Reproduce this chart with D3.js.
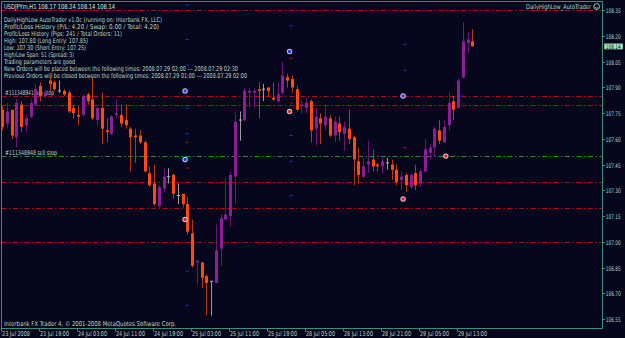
<!DOCTYPE html>
<html><head><meta charset="utf-8">
<script src="https://cdn.jsdelivr.net/npm/d3@7"></script>
<style>html,body{margin:0;padding:0;background:#06061c;overflow:hidden}svg{display:block}</style>
</head><body><svg id="c" width="625" height="338"></svg>
<script>
// ---- data (USDJPYm H1) ----
const opens  = [107.77,107.69,107.77,107.61,107.80,107.68,107.73,107.80,107.91,107.85,
                107.94,107.93,107.88,107.88,107.87,107.78,107.74,107.74,107.86,107.83,
                107.71,107.78,107.65,107.63,107.74,107.74,107.71,107.66,107.62,107.62,
                107.58,107.40,107.34,107.21,107.31,107.38,107.39,107.27,107.28,107.22,
                107.05,106.88,106.88,106.80,106.77,106.76,106.96,107.13,107.15,107.38,
                107.71,107.71,107.87,107.87,107.89,107.89,107.90,107.84,107.82,107.87,
                107.96,107.95,107.89,107.79,107.78,107.82,107.66,107.72,107.68,107.72,
                107.62,107.69,107.63,107.66,107.61,107.47,107.38,107.45,107.48,107.45,
                107.44,107.46,107.45,107.42,107.36,107.39,107.32,107.40,107.34,107.41,
                107.52,107.55,107.65,107.58,107.68,107.82,107.78,107.96,108.16,108.17];
const highs  = [107.79,107.81,107.77,107.83,107.82,107.74,107.83,107.92,107.93,107.89,
                107.96,107.94,107.94,107.89,107.88,107.80,107.79,107.86,107.87,107.96,
                107.79,107.87,107.72,107.74,107.83,107.80,107.80,107.67,107.66,107.65,
                107.59,107.44,107.45,107.33,107.43,107.43,107.40,107.34,107.28,107.26,
                107.13,106.89,106.88,106.81,106.77,107.10,107.16,107.37,107.41,107.76,
                107.76,107.90,107.90,107.89,107.93,107.92,107.90,107.93,107.93,108.05,
                107.98,107.97,107.91,107.83,107.84,107.83,107.78,107.75,107.80,107.74,
                107.73,107.73,107.70,107.77,107.62,107.55,107.49,107.59,107.54,107.46,
                107.49,107.49,107.48,107.45,107.41,107.40,107.40,107.45,107.42,107.60,
                107.57,107.67,107.71,107.71,107.87,107.85,107.95,108.28,108.22,108.24];
const lows   = [107.65,107.66,107.60,107.55,107.64,107.64,107.72,107.79,107.82,107.84,
                107.88,107.88,107.87,107.85,107.75,107.72,107.68,107.73,107.80,107.71,
                107.68,107.57,107.58,107.62,107.72,107.67,107.66,107.41,107.46,107.57,
                107.41,107.32,107.21,107.19,107.29,107.34,107.25,107.22,107.20,107.04,
                106.85,106.75,106.73,106.57,106.57,106.76,106.86,107.13,107.09,107.22,
                107.59,107.70,107.78,107.78,107.72,107.82,107.85,107.82,107.81,107.86,
                107.90,107.87,107.76,107.75,107.75,107.58,107.56,107.57,107.65,107.61,
                107.58,107.59,107.53,107.57,107.33,107.34,107.37,107.40,107.41,107.41,
                107.40,107.42,107.36,107.33,107.30,107.29,107.31,107.30,107.32,107.41,
                107.48,107.50,107.57,107.58,107.65,107.71,107.78,107.95,108.10,108.14];
const closes = [107.67,107.76,107.62,107.81,107.67,107.72,107.81,107.89,107.85,107.87,
                107.92,107.89,107.88,107.86,107.76,107.75,107.73,107.85,107.82,107.72,
                107.78,107.66,107.64,107.73,107.75,107.69,107.68,107.61,107.61,107.58,
                107.41,107.33,107.22,107.32,107.38,107.38,107.28,107.27,107.22,107.06,
                106.86,106.89,106.79,106.76,106.77,106.95,107.14,107.16,107.39,107.70,
                107.71,107.88,107.88,107.88,107.88,107.89,107.88,107.83,107.86,107.97,
                107.94,107.90,107.77,107.80,107.81,107.65,107.73,107.69,107.73,107.62,
                107.70,107.64,107.67,107.60,107.48,107.39,107.44,107.47,107.44,107.44,
                107.47,107.46,107.42,107.35,107.38,107.33,107.39,107.33,107.41,107.54,
                107.55,107.66,107.59,107.67,107.81,107.77,107.94,108.17,108.18,108.14];

const priceTicks = [108.35,108.20,108.05,107.90,107.75,107.60,107.45,107.30,107.15,107.00,106.85,106.70,106.55];
const timeLabels = ["23 Jul 2008","23 Jul 19:00","24 Jul 03:00","24 Jul 11:00","24 Jul 19:00","25 Jul 03:00",
                    "25 Jul 11:00","25 Jul 19:00","28 Jul 05:00","28 Jul 13:00","28 Jul 21:00","29 Jul 05:00","29 Jul 13:00"];
const timeLabelBars = [1,9,17,25,33,41,49,57,65,73,81,89,97];

// horizontal order/level lines
const redLevels = [108.35,107.85,107.80,107.35,107.20,107.00];
const greenLevels = [107.50];
const levelLabels = ["#111348941 buy stop","#111348948 sell stop"];
const levelLabelPrices = [107.85,107.50];

// order arrows (bar index, price)
const buyArrowBars = [39.5,39.5,61.5,85.4];
const buyArrowPrices = [107.88,107.48,108.11,107.85];
const sellArrowBars = [39.5,61.5,85.4,94.4];
const sellArrowPrices = [107.13,107.76,107.25,107.50];
// small stop / target dashes
const blueDashBars = [39.9,39.9,39.9,39.9,39.9,39.9,39.9,61.8,61.8,61.8,61.8,85.7,85.7,97.6];
const blueDashPrices = [108.38,108.18,108.03,107.78,107.63,106.83,106.63,108.26,107.62,107.47,107.27,108.15,108.00,107.85];
const redDashBars = [39.9,39.9,61.8,61.8,85.7];
const redDashPrices = [107.58,107.43,108.07,107.81,107.55];

const symbolHeader = "USDJPYm,H1  108.17 108.24 108.14 108.14";
const infoLines = [
 "DailyHighLow AutoTrader v1.0c (running on: Interbank FX, LLC)",
 "Profit/Loss History (P/L: 4.20 / Swap: 0.00 / Total: 4.20)",
 "Profit/Loss History (Pips: 241 / Total Orders: 11)",
 "High: 107.80 (Long Entry: 107.85)",
 "Low: 107.30 (Short Entry: 107.25)",
 "High/Low Span: 51 (Spread: 3)",
 "Trading parameters are good",
 "New Orders will be placed between the following times: 2008.07.29 02:00 --- 2008.07.29 02:30",
 "Previous Orders will be closed between the following times: 2008.07.29 01:00 --- 2008.07.29 02:00"];
const infoWidths = [158,155,118,84,82,70,71,234,243];
const expertName = "DailyHighLow_AutoTrader";
const copyright = "Interbank FX Trader 4, \u00A9 2001-2008 MetaQuotes Software Corp.";
const currentPrice = 108.14;

// ---- drawing ----
const W=625,H=338;
const L=1.5,R=602.5,T=1.5,B=328.5;
const svg=d3.select("#c");
const y=d3.scaleLinear().domain([106.55,108.35]).range([319,10.3]);
const x=d3.scaleLinear().domain([1,100]).range([2.2,472.45]);
const FONT="'DejaVu Sans Condensed','DejaVu Sans',sans-serif";
const TXT="#b6dcc4";

svg.append("rect").attr("width",W).attr("height",H).attr("fill","#06061c");
svg.append("defs").append("clipPath").attr("id","plot").append("rect")
  .attr("x",L+0.5).attr("y",T+0.5).attr("width",R-L-1).attr("height",B-T-1);
const plot=svg.append("g").attr("clip-path","url(#plot)");

// level labels (behind candles)
plot.selectAll("text.lvl").data(levelLabels).join("text")
  .attr("x",5).attr("y",(d,i)=>y(levelLabelPrices[i])-1.5)
  .attr("fill",TXT).attr("font-family",FONT).attr("font-size",6.6)
  .attr("textLength",(d,i)=>i===0?49:52).attr("lengthAdjust","spacingAndGlyphs").text(d=>d);

// lines
const dash="5,2.5,1.5,2.5";
plot.selectAll("line.red").data(redLevels).join("line")
  .attr("x1",L).attr("x2",R).attr("y1",d=>Math.round(y(d))+0.5).attr("y2",d=>Math.round(y(d))+0.5)
  .attr("stroke","#c00808").attr("stroke-width",1).attr("stroke-dasharray",dash);
plot.selectAll("line.green").data(greenLevels).join("line")
  .attr("x1",L).attr("x2",R).attr("y1",d=>Math.round(y(d))+0.5).attr("y2",d=>Math.round(y(d))+0.5)
  .attr("stroke","#1a9a1a").attr("stroke-width",1).attr("stroke-dasharray",dash);

// candles
const bars=d3.range(100).map(i=>({i:i+1,o:opens[i],h:highs[i],l:lows[i],c:closes[i]}));
const g=plot.append("g");
bars.forEach(b=>{
  const cx=Math.round(x(b.i));
  const up=b.c>b.o, down=b.c<b.o;
  const bodyCol= up?"#8e1e98":(down?"#ff4a0c":"#b4b4b4");
  const wickCol= up?"#70147a":(down?"#b83a0c":"#9c9c9c");
  g.append("line").attr("x1",cx+0.5).attr("x2",cx+0.5)
    .attr("y1",y(b.h)).attr("y2",y(b.l)).attr("stroke",wickCol).attr("stroke-width",1);
  const top=y(Math.max(b.o,b.c)), bot=y(Math.min(b.o,b.c));
  if(up||down){
    g.append("rect").attr("x",cx-1).attr("y",top).attr("width",3).attr("height",Math.max(1.2,bot-top))
      .attr("fill",bodyCol);
  } else {
    g.append("line").attr("x1",cx-1).attr("x2",cx+2).attr("y1",top).attr("y2",top)
      .attr("stroke",bodyCol).attr("stroke-width",1);
  }
});

// dashes
plot.selectAll("line.bd").data(blueDashBars).join("line")
  .attr("x1",d=>x(d)-1.5).attr("x2",d=>x(d)+2).attr("y1",(d,i)=>y(blueDashPrices[i])).attr("y2",(d,i)=>y(blueDashPrices[i]))
  .attr("stroke","#1a2cc8").attr("stroke-width",1);
plot.selectAll("line.rd").data(redDashBars).join("line")
  .attr("x1",d=>x(d)-1.5).attr("x2",d=>x(d)+2).attr("y1",(d,i)=>y(redDashPrices[i])).attr("y2",(d,i)=>y(redDashPrices[i]))
  .attr("stroke","#b00a0a").attr("stroke-width",1);

// arrows
function arrows(bs,ps,col){
  const a=plot.append("g");
  bs.forEach((b,i)=>{
    a.append("circle").attr("cx",x(b)).attr("cy",y(ps[i])).attr("r",2.7).attr("fill","#c8c8d8");
    a.append("circle").attr("cx",x(b)).attr("cy",y(ps[i])).attr("r",1.7).attr("fill",col);
  });
}
arrows(buyArrowBars,buyArrowPrices,"#2030ff");
arrows(sellArrowBars,sellArrowPrices,"#ff1a1a");

// texts
svg.append("text").attr("x",4).attr("y",8.5).attr("fill","#d8e8e0").attr("font-family",FONT)
  .attr("font-size",6.8).attr("textLength",111).attr("lengthAdjust","spacingAndGlyphs").text(symbolHeader);
svg.selectAll("text.info").data(infoLines).join("text")
  .attr("x",4).attr("y",(d,i)=>21.6+i*7.05).attr("fill",TXT).attr("font-family",FONT).attr("font-size",6.6)
  .attr("textLength",(d,i)=>infoWidths[i]).attr("lengthAdjust","spacingAndGlyphs").text(d=>d);
svg.append("text").attr("x",526).attr("y",8.8).attr("fill",TXT).attr("font-family",FONT)
  .attr("font-size",6.6).attr("textLength",65).attr("lengthAdjust","spacingAndGlyphs").text(expertName);
svg.append("circle").attr("cx",596.7).attr("cy",6.5).attr("r",2.9).attr("fill","none").attr("stroke",TXT).attr("stroke-width",0.9);
svg.append("path").attr("d","M595.2,7.3 Q596.7,9 598.2,7.3").attr("fill","none").attr("stroke",TXT).attr("stroke-width",0.7);
svg.append("text").attr("x",4).attr("y",325.6).attr("fill",TXT).attr("font-family",FONT)
  .attr("font-size",6.6).attr("textLength",172).attr("lengthAdjust","spacingAndGlyphs").text(copyright);

// frame
svg.append("rect").attr("x",L).attr("y",T).attr("width",R-L).attr("height",B-T)
  .attr("fill","none").attr("stroke","#3a9274").attr("stroke-width",1);

// price axis
const pa=svg.append("g");
priceTicks.forEach(p=>{
  const yy=Math.round(y(p))+0.5;
  pa.append("line").attr("x1",R).attr("x2",R+2.5).attr("y1",yy).attr("y2",yy).attr("stroke","#3a9274");
  pa.append("text").attr("x",605.8).attr("y",yy+2.2).attr("fill",TXT).attr("font-family",FONT)
    .attr("font-size",6.3).attr("textLength",15).attr("lengthAdjust","spacingAndGlyphs").text(p.toFixed(2));
});
const cy=y(currentPrice);
pa.append("rect").attr("x",604.3).attr("y",cy-2.8).attr("width",18.5).attr("height",5.8).attr("fill","#a8ecc4");
pa.append("text").attr("x",605.8).attr("y",cy+2.2).attr("fill","#06061c").attr("font-family",FONT)
  .attr("font-size",6.3).attr("textLength",15).attr("lengthAdjust","spacingAndGlyphs").text(currentPrice.toFixed(2));

// time axis
const ta=svg.append("g");
timeLabels.forEach((t,i)=>{
  const xx=Math.round(x(timeLabelBars[i]))-0.5;
  ta.append("line").attr("x1",xx).attr("x2",xx).attr("y1",B).attr("y2",B+3).attr("stroke","#3a9274");
  ta.append("text").attr("x",xx+0.5).attr("y",335.6).attr("fill",TXT).attr("font-family",FONT)
    .attr("font-size",6.6).attr("textLength",t.length===11?28:29).attr("lengthAdjust","spacingAndGlyphs").text(t);
});
</script></body></html>
